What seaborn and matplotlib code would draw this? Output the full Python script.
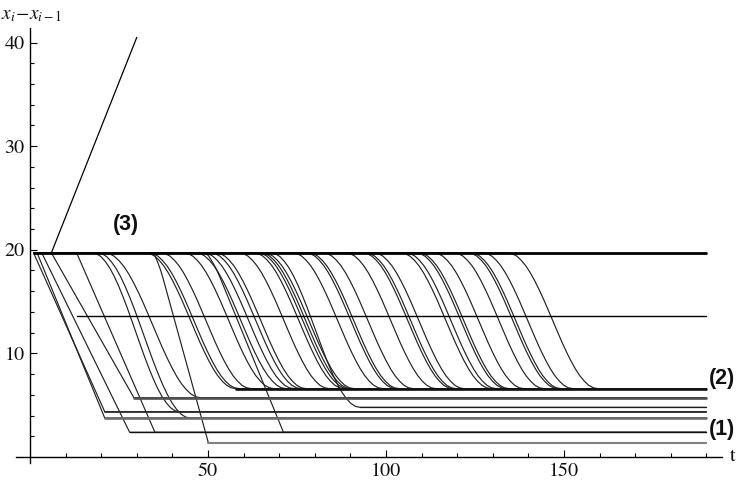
import numpy as np
import pandas as pd
import matplotlib
matplotlib.use("Agg")
import matplotlib.pyplot as plt
import seaborn as sns
from matplotlib.ticker import FixedLocator

# ---------------- data ----------------
TOP = 19.7          # initial headway
T_BEGIN = 1.0
T_END = 190.0

# smooth (S-shaped) transitions: departure time, arrival time, final headway
S_T0 = [17.5, 19.0, 21.0, 67.7,
        32.5, 33.4, 36.8, 43.2, 46.6, 48.8, 50.8, 52.2, 58.7, 62.9, 64.0,
        64.8, 65.7, 73.8, 77.5, 78.3, 82.3, 88.7, 93.5, 94.3, 96.6, 104.2,
        105.6, 108.4, 109.2, 113.4, 119.1, 123.0, 123.8, 127.2, 134.2]
S_T1 = [42.0, 45.0, 48.0, 92.7,
        57.8, 58.7, 62.1, 68.5, 71.9, 74.1, 76.1, 77.5, 84.0, 88.2, 89.3,
        90.1, 91.0, 99.1, 102.8, 103.6, 107.6, 114.0, 118.8, 119.6, 121.9, 129.5,
        130.9, 133.7, 134.5, 138.7, 144.4, 148.3, 149.1, 152.5, 159.5]
S_LEVEL = [4.37, 3.76, 5.72, 4.79] + [6.6] * 31

# straight descents (sharp corners)
V_T0 = [1.0, 2.0, 3.3, 6.0, 13.1]
V_T1 = [21.0, 21.0, 28.0, 29.2, 35.1]
V_LEVEL = [4.37, 3.76, 2.38, 5.72, 2.38]

# descents with a rounded start and a sharp end
R_T0 = [34.3, 49.0]
R_T1 = [50.1, 71.2]
R_LEVEL = [1.38, 2.38]

# car (3): headway grows
UP_T = [6.0, 30.0]
UP_V = [19.7, 40.5]

# constant headways
FLAT_LEVEL = [19.7, 13.6]
FLAT_T0 = [1.0, 13.1]

# shape templates of a transition (position in transition -> fraction descended)
S_POS = [0.0, 0.05, 0.1, 0.15, 0.2, 0.25, 0.3, 0.35, 0.4, 0.45, 0.5,
         0.55, 0.6, 0.65, 0.7, 0.75, 0.8, 0.85, 0.9, 0.95, 1.0]
S_FRAC = [0.0, 0.006, 0.024, 0.055, 0.095, 0.146, 0.206, 0.273, 0.345, 0.422, 0.5,
          0.578, 0.655, 0.727, 0.794, 0.854, 0.905, 0.945, 0.976, 0.994, 1.0]
R_POS = [0.0, 0.05, 0.1, 0.15, 0.2, 1.0]
R_FRAC = [0.0, 0.015, 0.05, 0.09, 0.14, 1.0]
V_POS = [0.0, 1.0]
V_FRAC = [0.0, 1.0]

XTICKS = [50, 100, 150]
YTICKS = [10, 20, 30, 40]

# look of the final plateaus (level -> colour, width)
TAIL_STYLE = {6.6: ("#111111", 1.9), 5.72: ("#505050", 1.9), 4.79: ("#1c1c1c", 0.9),
              4.37: ("#2a2a2a", 1.2), 3.76: ("#6e6e6e", 1.9), 2.38: ("#111111", 1.0),
              1.38: ("#808080", 1.5)}

# ---------------- build long table ----------------
rows = []
tails = {}
cid = 0


def add_transition(t0, t1, level, pos, frac):
    global cid
    pts = [(T_BEGIN, TOP)]
    for p, f in zip(pos, frac):
        pts.append((t0 + p * (t1 - t0), TOP - f * (TOP - level)))
    pts.append((T_END, level))
    for t, v in pts:
        rows.append(dict(t=t, v=v, curve=cid))
    tails[level] = min(tails.get(level, t1), t1)
    cid += 1


for a, b, l in zip(S_T0, S_T1, S_LEVEL):
    add_transition(a, b, l, S_POS, S_FRAC)
for a, b, l in zip(V_T0, V_T1, V_LEVEL):
    add_transition(a, b, l, V_POS, V_FRAC)
for a, b, l in zip(R_T0, R_T1, R_LEVEL):
    add_transition(a, b, l, R_POS, R_FRAC)

df = pd.DataFrame(rows)
up = pd.DataFrame(dict(t=UP_T, v=UP_V))
flat = pd.DataFrame(dict(t=[x for t0 in FLAT_T0 for x in (t0, T_END)],
                         v=[l for l in FLAT_LEVEL for _ in (0, 1)],
                         curve=[i for i in range(len(FLAT_LEVEL)) for _ in (0, 1)]))

# ---------------- draw ----------------
sns.set_theme(style="white")
plt.rcParams["mathtext.fontset"] = "stix"

fig = plt.figure(figsize=(7.37, 4.82), dpi=100)
ax = fig.add_axes([0.02185, 0.0394, 0.9574, 0.9025])

sns.lineplot(data=df, x="t", y="v", units="curve", estimator=None, sort=False,
             color="#222222", lw=0.85, ax=ax, legend=False)
for lvl, t_start in tails.items():
    col, lw = TAIL_STYLE[lvl]
    tail = pd.DataFrame(dict(t=[t_start, T_END], v=[lvl, lvl]))
    sns.lineplot(data=tail, x="t", y="v", estimator=None, sort=False,
                 color=col, lw=lw, ax=ax, legend=False)
sns.lineplot(data=flat.iloc[:2], x="t", y="v", estimator=None, sort=False,
             color="black", lw=2.0, ax=ax, legend=False)
sns.lineplot(data=flat.iloc[2:], x="t", y="v", estimator=None, sort=False,
             color="black", lw=1.0, ax=ax, legend=False)
sns.lineplot(data=up, x="t", y="v", estimator=None, sort=False,
             color="black", lw=0.9, ax=ax, legend=False)

ax.set_xlim(-3.9, 194.3)
ax.set_ylim(-0.58, 41.4)
ax.set_xlabel("")
ax.set_ylabel("")

for s in ("top", "right"):
    ax.spines[s].set_visible(False)
ax.spines["left"].set_position(("data", 0))
ax.spines["bottom"].set_position(("data", 0))
for s in ("left", "bottom"):
    ax.spines[s].set_color("black")
    ax.spines[s].set_linewidth(1.0)

ax.xaxis.set_major_locator(FixedLocator(XTICKS))
ax.yaxis.set_major_locator(FixedLocator(YTICKS))
ax.xaxis.set_minor_locator(FixedLocator([x for x in range(10, 191, 10) if x % 50]))
ax.yaxis.set_minor_locator(FixedLocator([y for y in range(2, 41, 2) if y % 10]))
ax.tick_params(which="both", direction="in", color="black", width=0.8,
               left=True, bottom=True, labelsize=14.5)
ax.tick_params(which="major", length=5, pad=4)
ax.tick_params(which="minor", length=3)
for lab in ax.get_xticklabels() + ax.get_yticklabels():
    lab.set_fontfamily("STIXGeneral")
    lab.set_color("#111111")

fig.text(1 / 737, 1 - 14 / 482, r"$x_i\!-\!x_{i-1}$", ha="left", va="center",
         fontsize=14, color="#111111")
fig.text(733 / 737, 1 - 456 / 482, "t", ha="center", va="center",
         fontsize=14.5, family="STIXGeneral", color="#111111")

ax.text(27, 22.4, "(3)", ha="center", va="center", fontsize=15.5,
        fontweight="bold", family="Liberation Sans", color="#111111")
ax.text(190.8, 7.6, "(2)", ha="left", va="center", fontsize=15.5,
        fontweight="bold", family="Liberation Sans", color="#111111", clip_on=False)
ax.text(190.8, 2.7, "(1)", ha="left", va="center", fontsize=15.5,
        fontweight="bold", family="Liberation Sans", color="#111111", clip_on=False)

fig.savefig("out.png", dpi=100)
